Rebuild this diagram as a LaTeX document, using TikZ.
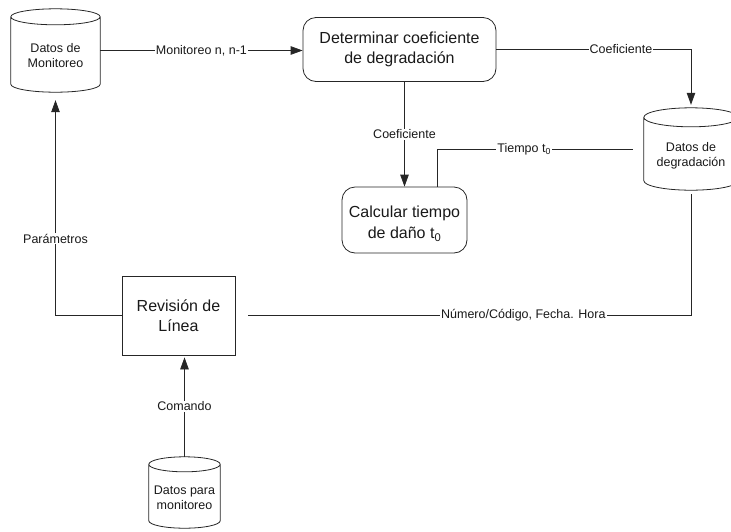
\documentclass[tikz,border=0pt]{standalone}
\usepackage{fontspec}
\setmainfont{Liberation Sans}
\usetikzlibrary{arrows.meta,calc}

% Outline of a data store: side walls, lower rim and the full top ellipse,
% fitted to the bounding box of node #1; #2 is the half-height of the rims.
\newcommand\dbcylinder[2]{%
  \draw[storeline] let \p1=(#1.north west), \p2=(#1.south east),
      \n1={(\x2-\x1)/2} in
    (\x1,\y1-#2pt) -- (\x1,\y2+#2pt)
      arc[start angle=180, end angle=360, x radius=\n1, y radius=#2pt]
      -- (\x2,\y1-#2pt)
    (\x1+\n1,\y1-#2pt) ellipse[x radius=\n1, y radius=#2pt];
}

\begin{document}
\begin{tikzpicture}[x=1pt,y=1pt,
  flow/.style={line width=0.8pt, draw=black!85},
  arrowflow/.style={flow, -{Triangle[length=12pt,width=8.5pt]}},
  lbl/.style={fill=white, inner sep=1pt, text=black!90,
    font=\fontsize{12.5}{15}\selectfont},
  storeline/.style={line width=0.8pt, draw=black!85},
  store/.style={inner sep=0pt},
  storetext/.style={align=center, inner sep=0pt, text=black!90,
    font=\fontsize{12.5}{15}\selectfont},
  proc/.style={draw=black!85, line width=0.8pt, rounded corners=13pt,
    align=center, inner sep=0pt, text=black!90,
    font=\fontsize{16}{20}\selectfont},
  proctext/.style={align=center, inner sep=0pt, text=black!90,
    font=\fontsize{16}{21}\selectfont},
  task/.style={draw=black!85, line width=0.8pt, align=center, inner sep=0pt,
    text=black!90, font=\fontsize{16}{19.5}\selectfont},
]
\useasboundingbox (0,0) rectangle (731,-531);

% data stores
\node[store, minimum width=89pt, minimum height=83pt,
  label={[storetext, yshift=-5pt]center:Datos de\\Monitoreo}] (mon) at (55.5,-50.5) {};
\node[store, minimum width=94pt, minimum height=82pt,
  label={[storetext, yshift=-6.5pt]center:Datos de\\degradación}] (deg) at (691,-149) {};
\node[store, minimum width=71pt, minimum height=71pt,
  label={[storetext, yshift=-5pt]center:Datos para\\monitoreo}] (para) at (184.5,-492.5) {};
\dbcylinder{mon}{8}
\dbcylinder{deg}{9.5}
\dbcylinder{para}{7.5}

% processes
\node[proc, minimum width=193pt, minimum height=64pt] (det) at (399.5,-49.5)
  {Determinar coeficiente\\de degradación};
\node[proc, minimum width=125pt, minimum height=66pt,
  label={[proctext, yshift=-4pt]center:Calcular tiempo\\de daño t\textsubscript{0}}]
  (calc) at (404.5,-220) {};
\node[task, minimum width=113pt, minimum height=79pt] (rev) at (178.5,-315.5)
  {Revisión de\\Línea};

% data flows
\draw[arrowflow] (mon.east) -- node[lbl]{Monitoreo n, n-1} (mon.east -| det.west);
\draw[arrowflow, shorten >=3pt] (det.east) -| node[lbl, pos=0.32]{Coeficiente} (deg.north);
\draw[arrowflow] (calc.north |- det.south) -- node[lbl]{Coeficiente} (calc.north);
\draw[flow, shorten <=11pt] (deg.west) -| node[lbl, pos=0.29]{Tiempo t\textsubscript{0}}
  ($(calc.north)+(33,0)$);
\draw[flow, shorten <=4pt, shorten >=13pt] (deg.south) |-
  node[lbl, pos=0.684]{Número/Código, Fecha. Hora} (rev.east);
\draw[arrowflow, shorten >=8pt] (rev.west) -| node[lbl, pos=0.672]{Parámetros} (mon.south);
\draw[arrowflow, shorten >=2pt] (para.north) -- node[lbl]{Comando} (para.north |- rev.south);
\end{tikzpicture}
\end{document}
